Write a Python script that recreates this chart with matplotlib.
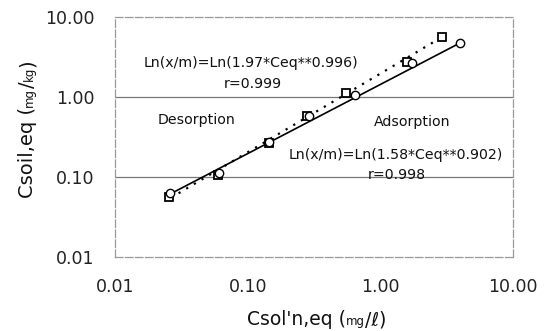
import matplotlib
matplotlib.use("Agg")
import matplotlib.pyplot as plt
from matplotlib.transforms import IdentityTransform

# desorption (squares, dotted trend) and adsorption (circles, solid trend)
des_x = [0.0256, 0.060, 0.146, 0.278, 0.547, 1.58, 2.91]
des_y = [0.056, 0.106, 0.266, 0.579, 1.12, 2.74, 5.6]
ads_x = [0.0261, 0.061, 0.146, 0.288, 0.64, 1.73, 3.98]
ads_y = [0.063, 0.112, 0.274, 0.58, 1.06, 2.66, 4.73]

# trend line end points
des_fit_x = [0.0264, 2.91]
des_fit_y = [0.055, 5.6]
ads_fit_x = [0.0264, 3.95]
ads_fit_y = [0.062, 4.7]

ticks = [0.01, 0.1, 1, 10]
tick_labels = ["0.01", "0.10", "1.00", "10.00"]

fig = plt.figure(figsize=(5.44, 3.31), dpi=100)
ax = fig.add_axes([115 / 544, 74 / 331, 398 / 544, 240 / 331])

ax.plot(des_fit_x, des_fit_y, color="black", lw=1.6, ls=(0, (1.0, 3.0)))
ax.plot(ads_fit_x, ads_fit_y, color="black", lw=1.2)
ax.plot(des_x, des_y, ls="none", marker="s", ms=5.5, mfc="white", mec="black", mew=1.3)
ax.plot(ads_x, ads_y, ls="none", marker="o", ms=6, mfc="white", mec="black", mew=1.0)

ax.set_xscale("log")
ax.set_yscale("log")
ax.set_xlim(0.01, 10)
ax.set_ylim(0.01, 10)
ax.set_xticks(ticks)
ax.set_xticklabels(tick_labels)
ax.set_yticks(ticks)
ax.set_yticklabels(tick_labels)
ax.minorticks_off()
ax.tick_params(length=0, labelsize=12.5, colors="#222222")
ax.tick_params(axis="x", pad=15)
ax.tick_params(axis="y", pad=15)
ax.grid(False)
for y in [0.1, 1]:
    ax.axhline(y, color="#777777", lw=0.9, zorder=0)
for s in ax.spines.values():
    s.set_color("#999999")
    s.set_linewidth(0.9)
    s.set_linestyle((0, (6, 2)))

txt = dict(transform=ax.transAxes, ha="center", va="center", fontsize=10.2,
           color="#111111")
ax.text(0.342, 0.808, "Ln(x/m)=Ln(1.97*Ceq**0.996)", **txt)
ax.text(0.347, 0.721, "r=0.999", **txt)
ax.text(0.204, 0.571, "Desorption", **txt)
ax.text(0.746, 0.5625, "Adsorption", **txt)
ax.text(0.706, 0.425, "Ln(x/m)=Ln(1.58*Ceq**0.902)", **txt)
ax.text(0.709, 0.342, "r=0.998", **txt)

renderer = fig.canvas.get_renderer()


def label_run(pieces, x, y, rotation):
    # draws text pieces of mixed size on one baseline, in pixel coords
    for s, size in pieces:
        t = fig.text(x, y, s, fontsize=size, rotation=rotation, ha="left",
                     va="baseline", rotation_mode="anchor",
                     transform=IdentityTransform(), color="#111111")
        bb = t.get_window_extent(renderer)
        if rotation == 90:
            y += bb.height
        else:
            x += bb.width


label_run([("Csol'n,eq (", 13.5), ("mg", 8.5), ("/ℓ)", 13.5)], 247, 331 - 325, 0)
label_run([("Csoil,eq (", 14), ("mg", 8.5), ("/", 14), ("kg", 8.5), (")", 14)],
          33, 331 - 198, 90)

fig.savefig("out.png", dpi=100)
